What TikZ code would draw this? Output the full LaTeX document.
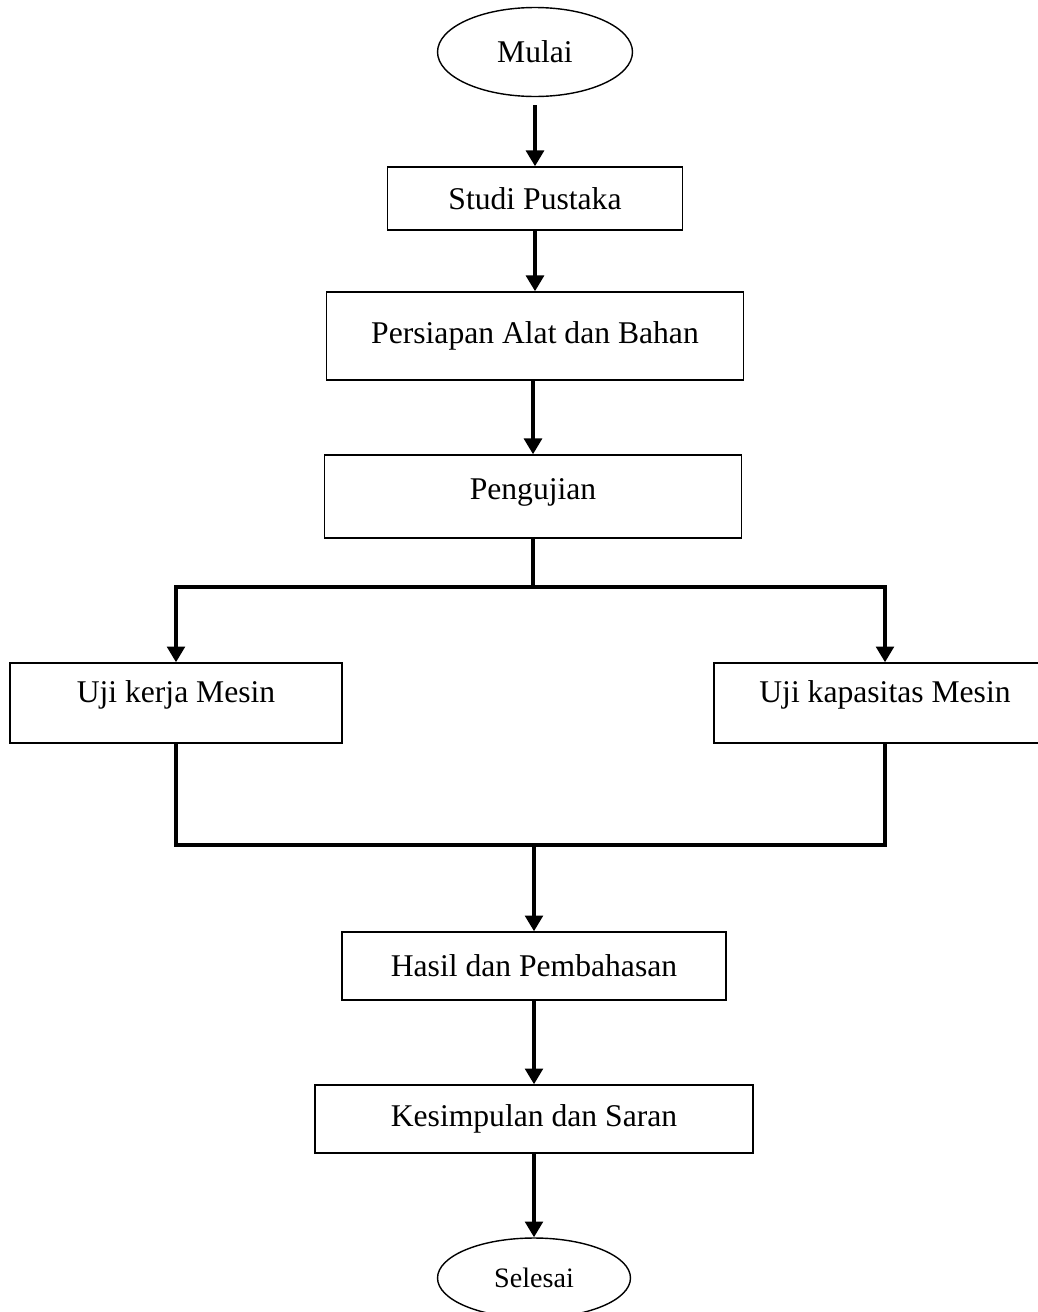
\documentclass[tikz,border=0pt]{standalone}
\usepackage{fontspec}
\setmainfont{Liberation Serif}
\usetikzlibrary{shapes.geometric,arrows.meta}

\begin{document}
\begin{tikzpicture}[x=0.02cm,y=-0.02cm,
	proses/.style={draw,rectangle,line width=0.8pt,inner sep=0pt,font=\fontsize{18}{22}\selectfont},
	terminal/.style={draw,ellipse,line width=0.8pt,inner sep=0pt},
	panah/.style={line width=2.5pt,-{Triangle[width=10pt,length=9pt]}},
	garis/.style={line width=2.5pt}]
	\useasboundingbox (0,0) rectangle (1038,1312) ;
	% kolom tengah
	\node[terminal,minimum width=3.9cm,minimum height=1.78cm,font=\fontsize{18}{22}\selectfont] (mulai) at (535,52) {Mulai} ;
	\node[proses,minimum width=5.9cm,minimum height=1.26cm] (studi) at (535,198.5) {Studi Pustaka} ;
	\node[proses,minimum width=8.34cm,minimum height=1.76cm] (persiapan) at (535,336) {Persiapan Alat dan Bahan} ;
	\node[proses,minimum width=8.34cm,minimum height=1.66cm,text depth=0.3cm] (pengujian) at (533,496.5) {Pengujian} ;
	% cabang pengujian
	\node[proses,minimum width=6.64cm,minimum height=1.6cm,text depth=0.46cm] (ujikerja) at (176,703) {Uji kerja Mesin} ;
	\node[proses,minimum width=6.84cm,minimum height=1.6cm,text depth=0.46cm] (ujikapasitas) at (885,703) {Uji kapasitas Mesin} ;
	\coordinate (cabang) at (533,587) ;
	\coordinate (gabung) at (534,845) ;
	% hasil
	\node[proses,minimum width=7.68cm,minimum height=1.36cm] (hasil) at (534,966) {Hasil dan Pembahasan} ;
	\node[proses,minimum width=8.76cm,minimum height=1.36cm] (kesimpulan) at (534,1119) {Kesimpulan dan Saran} ;
	\node[terminal,minimum width=3.86cm,minimum height=1.6cm,font=\fontsize{16}{20}\selectfont] (selesai) at (534,1278) {Selesai} ;
	% panah
	\draw[panah,shorten <=0.16cm] (mulai) -- (studi) ;
	\draw[panah] (studi) -- (persiapan) ;
	\draw[panah] (persiapan.south -| pengujian) -- (pengujian) ;
	\draw[garis] (pengujian) -- (cabang) ;
	\draw[panah] (cabang) -| (ujikerja) ;
	\draw[panah] (cabang) -| (ujikapasitas) ;
	\draw[garis] (ujikerja) |- (gabung) -| (ujikapasitas) ;
	\draw[panah] (gabung) -- (hasil) ;
	\draw[panah] (hasil) -- (kesimpulan) ;
	\draw[panah] (kesimpulan) -- (selesai) ;
\end{tikzpicture}
\end{document}
